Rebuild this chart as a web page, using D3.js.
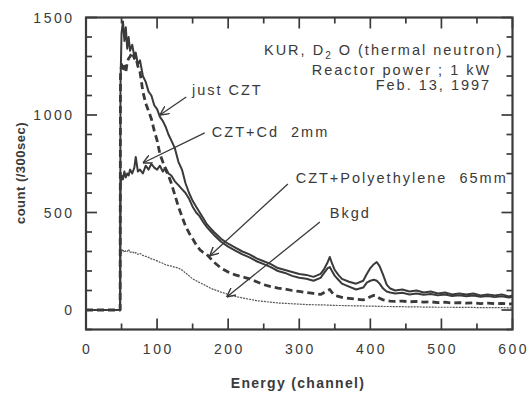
<!DOCTYPE html>
<html>
<head>
<meta charset="utf-8">
<script src="https://cdn.jsdelivr.net/npm/d3@7"></script>
<style>
  body { margin: 0; background: #fff; }
  svg { display: block; font-family: "Liberation Sans", Arial, sans-serif; }
</style>
</head>
<body>
<script>
// channel grid (shared by all four spectra)
const channels = [
  0, 48, 48.5,
  50, 52, 54, 56, 58, 60, 62,
  65, 68, 70, 73, 76,
  80, 84, 88, 92, 96,
  100, 104, 108, 112, 116,
  120, 125, 130, 135, 140,
  145, 150, 155, 160, 165,
  170, 175, 180, 190, 200,
  210, 220, 230, 240, 250,
  260, 270, 280, 290, 300,
  310, 320, 330, 335, 340,
  343, 346, 350, 355, 360,
  370, 380, 390, 395, 400,
  405, 409, 413, 418, 423,
  428, 435, 445, 455, 465,
  475, 485, 495, 505, 515,
  525, 535, 545, 555, 565,
  575, 585, 595, 600
];

const justCZT = [
  0, 0, 1150,
  1420, 1480, 1380, 1450, 1340, 1400, 1330,
  1360, 1300, 1320, 1260, 1280,
  1200, 1170, 1120, 1100, 1050,
  1030, 990, 970, 940, 900,
  870, 830, 760, 720, 650,
  600, 560, 530, 500, 470,
  440, 420, 400, 365, 340,
  320, 300, 285, 265, 250,
  235, 215, 205, 195, 185,
  180, 170, 185, 210, 245,
  272, 240, 205, 180, 160,
  145, 135, 150, 185, 215,
  235, 246, 225, 180, 130,
  110, 100, 105, 95, 100,
  90, 95, 85, 90, 80,
  85, 80, 85, 75, 80,
  75, 80, 70, 75
];

const cztCd = [
  0, 0, 640,
  690, 670, 710, 680, 700, 690, 720,
  700, 730, 785, 710, 720,
  700, 740, 720, 750, 730,
  720, 740, 710, 730, 700,
  690, 660, 640, 620, 600,
  570, 530, 500, 480, 450,
  425, 405, 385, 350, 325,
  305, 285, 270, 250, 235,
  220, 200, 190, 175, 165,
  160, 150, 165, 190, 215,
  220, 200, 175, 155, 135,
  120, 105, 115, 140, 150,
  155, 150, 135, 110, 95,
  90, 85, 88, 80, 85,
  78, 82, 75, 80, 72,
  75, 70, 74, 68, 72,
  66, 70, 64, 68
];

const cztPoly = [
  0, 0, 1200,
  1260, 1230, 1250, 1220, 1270, 1290, 1300,
  1320, 1290, 1300, 1250, 1220,
  1120, 1060, 1020, 980, 920,
  870, 800, 760, 720, 690,
  650, 590, 530, 480, 430,
  395, 365, 335, 310, 295,
  285, 265, 245, 215, 195,
  180, 170, 160, 145, 130,
  120, 112, 108, 100, 95,
  90, 85, 80, 90, 100,
  105, 90, 75, 70, 65,
  60, 55, 52, 58, 68,
  75, 72, 60, 52, 48,
  45, 44, 46, 42, 44,
  40, 42, 38, 40, 36,
  38, 35, 37, 33, 35,
  32, 34, 30, 32
];

const bkgd = [
  0, 0, 280,
  300, 310, 295, 305, 300, 310, 295,
  300, 290, 295, 285, 290,
  280, 275, 270, 262, 258,
  252, 245, 240, 232, 228,
  225, 220, 215, 205, 190,
  175, 160, 150, 140, 132,
  122, 112, 105, 92, 80,
  70, 62, 55, 48, 44,
  40, 36, 34, 32, 30,
  28, 27, 26, 26, 25,
  25, 24, 24, 23, 23,
  22, 21, 21, 20, 20,
  20, 19, 19, 18, 18,
  18, 17, 17, 16, 16,
  15, 15, 14, 14, 14,
  13, 13, 13, 12, 12,
  12, 12, 11, 11
];

const xTicks = [0, 100, 200, 300, 400, 500, 600];
const yTicks = [0, 500, 1000, 1500];

// series labels and arrows, in data units: [label, textCh, textCount, tailCh, tailCount, tipCh, tipCount]
const seriesNotes = [
  ['just CZT', 149, 1103, 141, 1092, 104, 1000],
  ['CZT+Cd  2mm', 177, 887, 167, 908, 80, 754],
  ['CZT+Polyethylene  65mm', 295, 651, 284, 646, 174, 277],
  ['Bkgd', 343, 472, 329, 451, 198, 67]
];

const ink = '#3a3a3a';

const width = 532, height = 396;
const svg = d3.select('body').append('svg')
  .attr('width', width)
  .attr('height', height);

const x = d3.scaleLinear().domain([0, 600]).range([86, 512.5]);
const y = d3.scaleLinear().domain([-100, 1500]).range([329.5, 17.5]);

// ticks, drawn inward on all four sides
const tickG = svg.append('g').attr('stroke', ink).attr('stroke-width', 1.7);
d3.range(0, 601, 50).forEach(v => {
  const len = v % 100 === 0 ? 11 : 6;
  tickG.append('line').attr('x1', x(v)).attr('x2', x(v)).attr('y1', y.range()[0]).attr('y2', y.range()[0] - len);
  tickG.append('line').attr('x1', x(v)).attr('x2', x(v)).attr('y1', y.range()[1]).attr('y2', y.range()[1] + len);
});
d3.range(-100, 1501, 100).forEach(v => {
  const len = v % 500 === 0 ? 11 : 6;
  tickG.append('line').attr('y1', y(v)).attr('y2', y(v)).attr('x1', x.range()[0]).attr('x2', x.range()[0] + len);
  tickG.append('line').attr('y1', y(v)).attr('y2', y(v)).attr('x1', x.range()[1]).attr('x2', x.range()[1] - len);
});

// tick labels
svg.append('g').selectAll('text').data(xTicks).join('text')
  .attr('x', d => x(d) + 1.2)
  .attr('y', 354)
  .attr('text-anchor', 'middle')
  .attr('font-size', 14)
  .attr('letter-spacing', 2.5)
  .attr('fill', ink)
  .text(d => d);

svg.append('g').selectAll('text').data(yTicks).join('text')
  .attr('x', 74.5)
  .attr('y', d => y(d) + 5)
  .attr('text-anchor', 'end')
  .attr('font-size', 14)
  .attr('letter-spacing', 2.5)
  .attr('fill', ink)
  .text(d => d);

// axis titles
svg.append('text')
  .attr('x', 298).attr('y', 388)
  .attr('text-anchor', 'middle')
  .attr('font-size', 14).attr('font-weight', 'bold')
  .attr('letter-spacing', 1.3)
  .attr('fill', ink)
  .text('Energy (channel)');

svg.append('text')
  .attr('transform', 'translate(25,173) rotate(-90)')
  .attr('text-anchor', 'middle')
  .attr('font-size', 13).attr('font-weight', 'bold')
  .attr('letter-spacing', 0.5)
  .attr('fill', ink)
  .text('count (/300sec)');

// spectra
const line = d3.line()
  .x((d, i) => x(channels[i]))
  .y(d => y(d));

const plot = svg.append('g').attr('fill', 'none').attr('stroke-linejoin', 'round');

plot.append('path').datum(bkgd)
  .attr('d', line)
  .attr('stroke', '#555').attr('stroke-width', 1.2)
  .attr('stroke-dasharray', '2,1');

plot.append('path').datum(cztPoly)
  .attr('d', line)
  .attr('stroke', ink).attr('stroke-width', 2.8)
  .attr('stroke-dasharray', '7,4');

plot.append('path').datum(cztCd)
  .attr('d', line)
  .attr('stroke', ink).attr('stroke-width', 2);

plot.append('path').datum(justCZT)
  .attr('d', line)
  .attr('stroke', ink).attr('stroke-width', 2);

// frame
svg.append('rect')
  .attr('x', x.range()[0]).attr('y', y.range()[1])
  .attr('width', x.range()[1] - x.range()[0])
  .attr('height', y.range()[0] - y.range()[1])
  .attr('fill', 'none').attr('stroke', ink).attr('stroke-width', 2.2);

// arrows + labels
svg.append('defs').append('marker')
  .attr('id', 'head')
  .attr('viewBox', '0 0 10 10')
  .attr('refX', 10).attr('refY', 5)
  .attr('markerWidth', 9).attr('markerHeight', 9)
  .attr('markerUnits', 'userSpaceOnUse')
  .attr('orient', 'auto')
  .append('path')
  .attr('d', 'M0,0 L10,5 L0,10')
  .attr('fill', 'none').attr('stroke', ink).attr('stroke-width', 1.6);

const notes = svg.append('g');
notes.selectAll('line').data(seriesNotes).join('line')
  .attr('x1', d => x(d[3])).attr('y1', d => y(d[4]))
  .attr('x2', d => x(d[5])).attr('y2', d => y(d[6]))
  .attr('stroke', ink).attr('stroke-width', 1.3)
  .attr('marker-end', 'url(#head)');

notes.selectAll('text').data(seriesNotes).join('text')
  .attr('x', d => x(d[1])).attr('y', d => y(d[2]))
  .attr('font-size', 14.5)
  .attr('letter-spacing', 2)
  .attr('fill', ink)
  .style('white-space', 'pre')
  .text(d => d[0]);

// run info, right aligned
const info = svg.append('g')
  .attr('font-size', 14.5)
  .attr('letter-spacing', 2)
  .attr('text-anchor', 'end')
  .attr('fill', ink)
  .style('white-space', 'pre');

const kur = info.append('text').attr('x', x(587)).attr('y', y(1308));
kur.append('tspan').text('KUR,  D');
kur.append('tspan').attr('font-size', 10).attr('dy', 4).text('2');
kur.append('tspan').attr('dy', -4).text(' O (thermal neutron)');

info.append('text').attr('x', x(570)).attr('y', y(1205)).text('Reactor power ; 1 kW');
info.append('text').attr('x', x(570)).attr('y', y(1128)).text('Feb. 13, 1997');
</script>
</body>
</html>
